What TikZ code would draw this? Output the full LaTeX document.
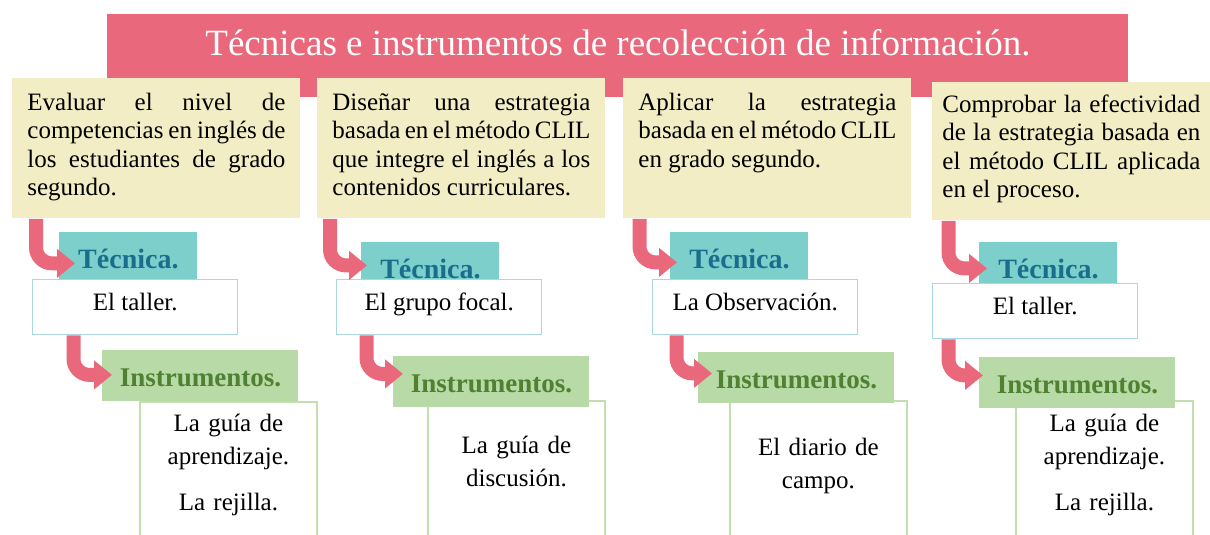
\documentclass[tikz,border=0pt]{standalone}
\usepackage{fontspec}
\setmainfont{Liberation Serif}
\usetikzlibrary{arrows.meta}

\definecolor{rosa}{HTML}{E9687C}
\definecolor{amarillo}{HTML}{F2EDC4}
\definecolor{turquesa}{HTML}{7DCFCB}
\definecolor{azul}{HTML}{1A6E8C}
\definecolor{celeste}{HTML}{AAD7E1}
\definecolor{verde}{HTML}{B8DAA6}
\definecolor{verdeosc}{HTML}{508032}
\definecolor{verdeclaro}{HTML}{C3DFB0}

\begin{document}
\begin{tikzpicture} [x = 0.5pt, y = -0.5pt,
    titulo/.style = {fill = rosa, text = white, anchor = north west, inner sep = 0pt,
        minimum width = 510.5pt, text height = 20.5pt, text depth = 21pt,
        font = \fontsize{18.5}{21}\selectfont},
    objetivo/.style = {fill = amarillo, anchor = north west, inner xsep = 7.5pt, inner ysep = 0pt,
        text width = 129pt, align = justify, text height = 16pt, text depth = 54pt,
        font = \fontsize{12.5}{14.25}\selectfont},
    tecnica/.style = {fill = turquesa, text = azul, anchor = north west, inner sep = 0pt,
        minimum width = 69pt, text height = 18pt, text depth = 6pt,
        font = \fontsize{14}{16}\selectfont\bfseries},
    valor/.style = {fill = white, draw = celeste, line width = 0.7pt, anchor = north west,
        inner sep = 0pt, minimum width = 102.5pt, text height = 15.5pt, text depth = 12pt,
        font = \fontsize{12.5}{15}\selectfont},
    instrumento/.style = {fill = verde, text = verdeosc, anchor = north west, inner sep = 0pt,
        minimum width = 98pt, text height = 18pt, text depth = 7.5pt,
        font = \fontsize{13.5}{15}\selectfont\bfseries},
    lista/.style = {anchor = north west, inner xsep = 5pt, inner ysep = 0pt,
        text width = 78pt, align = center, text height = 14.5pt, text depth = 52pt,
        font = \fontsize{12.5}{16.5}\selectfont},
    marco/.style = {draw = verdeclaro, line width = 0.7pt},
    flecha/.style = {draw = rosa, line width = 7pt, rounded corners = 8pt,
        -{Triangle[length = 9pt, width = 14pt]}}]

\useasboundingbox (0,0) rectangle (1210,535);

\node (titulo) [titulo] at (107,14) {Técnicas e instrumentos de recolección de información.};

\node (obj1) [objetivo] at (12,78) {Evaluar el nivel de\linebreak competencias en inglés de\linebreak los estudiantes de grado\linebreak segundo.};
\node (obj2) [objetivo] at (317,78) {Diseñar una estrategia\linebreak basada en el método CLIL\linebreak que integre el inglés a los\linebreak contenidos curriculares.};
\node (obj3) [objetivo] at (623,78) {Aplicar la estrategia\linebreak basada en el método CLIL\linebreak en grado segundo.};
\node (obj4) [objetivo, inner xsep = 5pt, text height = 15pt] at (932,82) {Comprobar la efectividad\linebreak de la estrategia basada en\linebreak el método CLIL aplicada\linebreak en el proceso.};

\node (tec1) [tecnica] at (59,232) {Técnica.};
\node (tec2) [tecnica, text depth = 1pt] at (361,242) {Técnica.};
\node (tec3) [tecnica] at (670,232) {Técnica.};
\node (tec4) [tecnica, text depth = 2.5pt] at (979,242) {Técnica.};

\node (val1) [valor] at (32,279) {El taller.};
\node (val2) [valor] at (336,279) {El grupo focal.};
\node (val3) [valor] at (652,279) {La Observación.};
\node (val4) [valor] at (932,283) {El taller.};

\node (lst1) [lista] at (140,402) {La guía de\\ aprendizaje.\\[6.5pt] La rejilla.};
\node (lst2) [lista, text height = 26pt, text depth = 41pt] at (428,401) {La guía de\\ discusión.};
\node (lst3) [lista, text height = 27pt, text depth = 40pt] at (730,401) {El diario de\\ campo.};
\node (lst4) [lista, text height = 15pt] at (1016,401) {La guía de\\ aprendizaje.\\[6.5pt] La rejilla.};

\draw [marco] (lst1.south west) |- (lst1.north east) -- (lst1.south east);
\draw [marco] (lst2.south west) |- (lst2.north east) -- (lst2.south east);
\draw [marco] (lst3.south west) |- (lst3.north east) -- (lst3.south east);
\draw [marco] (lst4.south west) |- (lst4.north east) -- (lst4.south east);

\node (ins1) [instrumento] at (102,350) {Instrumentos.};
\node (ins2) [instrumento] at (393,356) {Instrumentos.};
\node (ins3) [instrumento] at (698,352) {Instrumentos.};
\node (ins4) [instrumento] at (979,357) {Instrumentos.};

\draw [flecha] ([xshift = 12pt]obj1.south west) |- ([xshift = 8pt, yshift = -3.5pt]tec1.west);
\draw [flecha] ([xshift = 20.75pt]val1.south west) |- ([xshift = 5pt, yshift = 0.5pt]ins1.west);
\draw [flecha] ([xshift = 6.5pt]obj2.south west) |- ([xshift = 3pt, yshift = -2pt]tec2.west);
\draw [flecha] ([xshift = 15.25pt]val2.south west) |- ([xshift = 5pt, yshift = 4pt]ins2.west);
\draw [flecha] ([xshift = 8.25pt]obj3.south west) |- ([xshift = 3.5pt, yshift = -3pt]tec3.west);
\draw [flecha] ([xshift = 12.25pt]val3.south west) |- ([xshift = 7pt, yshift = 2.25pt]ins3.west);
\draw [flecha] ([xshift = 8.25pt]obj4.south west) |- ([xshift = 4pt, yshift = -2.75pt]tec4.west);
\draw [flecha] ([xshift = 8.25pt]val4.south west) |- ([xshift = 2pt, yshift = 3.75pt]ins4.west);
\end{tikzpicture}
\end{document}
